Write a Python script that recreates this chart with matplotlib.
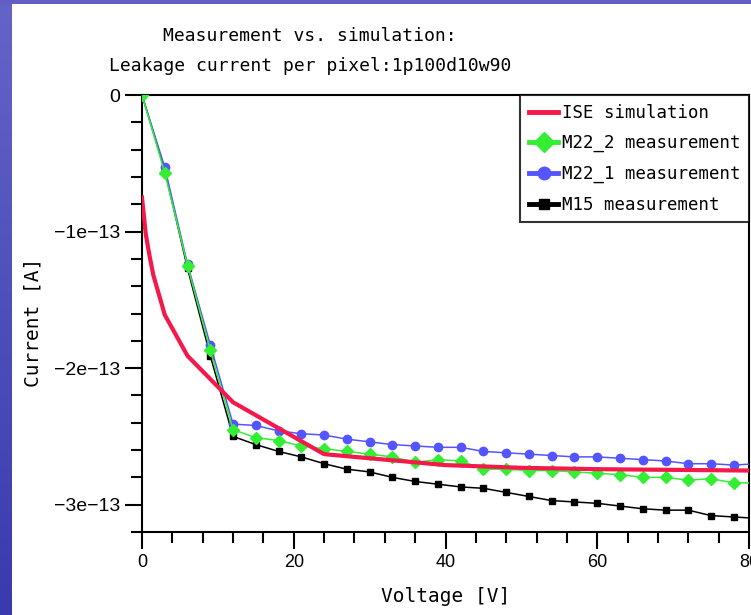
import numpy as np
import matplotlib
matplotlib.use("Agg")
import matplotlib.pyplot as plt
from matplotlib.ticker import MultipleLocator, FuncFormatter

# voltages of the measurements [V]
volt_meas = [0, 3, 6, 9, 12, 15, 18, 21, 24, 27, 30, 33, 36, 39, 42,
             45, 48, 51, 54, 57, 60, 63, 66, 69, 72, 75, 78, 81]

# currents in units of 1e-13 A
m22_2 = [0, -0.57, -1.25, -1.87, -2.45, -2.51, -2.53, -2.57, -2.59, -2.61, -2.63,
         -2.65, -2.69, -2.67, -2.68, -2.74, -2.74, -2.75, -2.75, -2.76, -2.77,
         -2.78, -2.80, -2.80, -2.82, -2.81, -2.84, -2.84]
m22_1 = [0, -0.53, -1.24, -1.83, -2.41, -2.42, -2.46, -2.48, -2.49, -2.52, -2.54,
         -2.56, -2.57, -2.58, -2.58, -2.61, -2.62, -2.63, -2.64, -2.65, -2.65,
         -2.66, -2.67, -2.68, -2.70, -2.70, -2.71, -2.70]
m15 = [0, -0.55, -1.27, -1.91, -2.50, -2.56, -2.61, -2.65, -2.70, -2.74, -2.76,
       -2.80, -2.83, -2.85, -2.87, -2.88, -2.91, -2.94, -2.97, -2.98, -2.99,
       -3.01, -3.03, -3.04, -3.04, -3.08, -3.09, -3.10]

# ISE simulation
volt_sim = [0, 0.5, 1, 1.5, 3, 6, 12, 24, 32, 40, 50, 60, 70, 80]
ise_sim = [-0.75, -1.02, -1.18, -1.32, -1.61, -1.91, -2.25, -2.63, -2.67,
           -2.71, -2.73, -2.74, -2.745, -2.75]

scale = 1e-13
W, H = 751, 615

fig = plt.figure(figsize=(W / 100, H / 100), dpi=100)
fig.patch.set_facecolor("white")

# blue slide background strips
grad = np.linspace(0, 1, 256).reshape(-1, 1)
bg = fig.add_axes([0, 0, 12 / W, 1])
bg.imshow(grad, aspect="auto", cmap=matplotlib.colors.LinearSegmentedColormap.from_list(
    "bg", ["#6464c8", "#3a3aae"]), extent=[0, 1, 0, 1], origin="upper")
bg.axis("off")
top = fig.add_axes([0, 1 - 4 / H, 1, 4 / H])
top.set_facecolor("#6060c4")
top.set_xticks([])
top.set_yticks([])
for s in top.spines.values():
    s.set_visible(False)

ax = fig.add_axes([142 / W, 1 - 532 / H, 607 / W, 437 / H])

vm = np.array(volt_meas)
l15, = ax.plot(vm, np.array(m15) * scale, color="black", lw=1.1, marker="s",
               ms=5, zorder=2, label="M15 measurement")
l221, = ax.plot(vm, np.array(m22_1) * scale, color="#5555ff", lw=1.1, marker="o",
                ms=6, zorder=3, label="M22_1 measurement")
l222, = ax.plot(vm, np.array(m22_2) * scale, color="#33ee33", lw=1.1, marker="D",
                ms=6.5, zorder=4, label="M22_2 measurement")
lsim, = ax.plot(volt_sim, np.array(ise_sim) * scale, color="#f5184a", lw=3,
                zorder=5, label="ISE simulation")

ax.set_xlim(0, 80)
ax.set_ylim(-3.2e-13, 0)

ax.xaxis.set_major_locator(MultipleLocator(20))
ax.xaxis.set_minor_locator(MultipleLocator(4))
ax.yaxis.set_major_locator(MultipleLocator(1e-13))
ax.yaxis.set_minor_locator(MultipleLocator(0.2e-13))


def yfmt(v, pos):
    if abs(v) < 1e-20:
        return "0"
    return "{:.0e}".format(v).replace("-", "\u2212")


ax.yaxis.set_major_formatter(FuncFormatter(yfmt))
ax.tick_params(which="major", direction="out", length=12, width=1.5,
               top=False, right=False)
ax.tick_params(which="minor", direction="out", length=8, width=1.5,
               top=False, right=False)
for lab in ax.get_yticklabels():
    lab.set_fontfamily("Liberation Sans")
    lab.set_fontsize(14)
for lab in ax.get_xticklabels():
    lab.set_fontfamily("Liberation Sans")
    lab.set_fontsize(13)
ax.tick_params(axis="x", pad=4)
ax.tick_params(axis="y", pad=4)
for s in ax.spines.values():
    s.set_linewidth(1.5)

mono = "DejaVu Sans Mono"
fig.text(310 / W, 1 - 36 / H, "Measurement vs. simulation:", ha="center",
         va="center", fontsize=13, family=mono)
fig.text(310 / W, 1 - 66 / H, "Leakage current per pixel:1p100d10w90",
         ha="center", va="center", fontsize=13, family=mono)
fig.text(33 / W, 1 - 322 / H, "Current [A]", rotation=90, ha="center",
         va="center", fontsize=14, family=mono)
fig.text(446 / W, 1 - 597 / H, "Voltage [V]", ha="center", va="center",
         fontsize=14, family=mono)

leg = ax.legend(handles=[lsim, l222, l221, l15], loc="upper right",
                bbox_to_anchor=(1.0, 1.0), borderaxespad=0, frameon=True,
                fancybox=False, edgecolor="black", prop={"family": mono, "size": 12.5},
                handlelength=1.7, handletextpad=0.2, labelspacing=0.72,
                borderpad=0.5, markerscale=1.5)
leg.get_frame().set_linewidth(1.5)
leg.set_zorder(10)
for h in leg.legend_handles:
    h.set_linewidth(3.5)

fig.savefig("out.png", dpi=100)
